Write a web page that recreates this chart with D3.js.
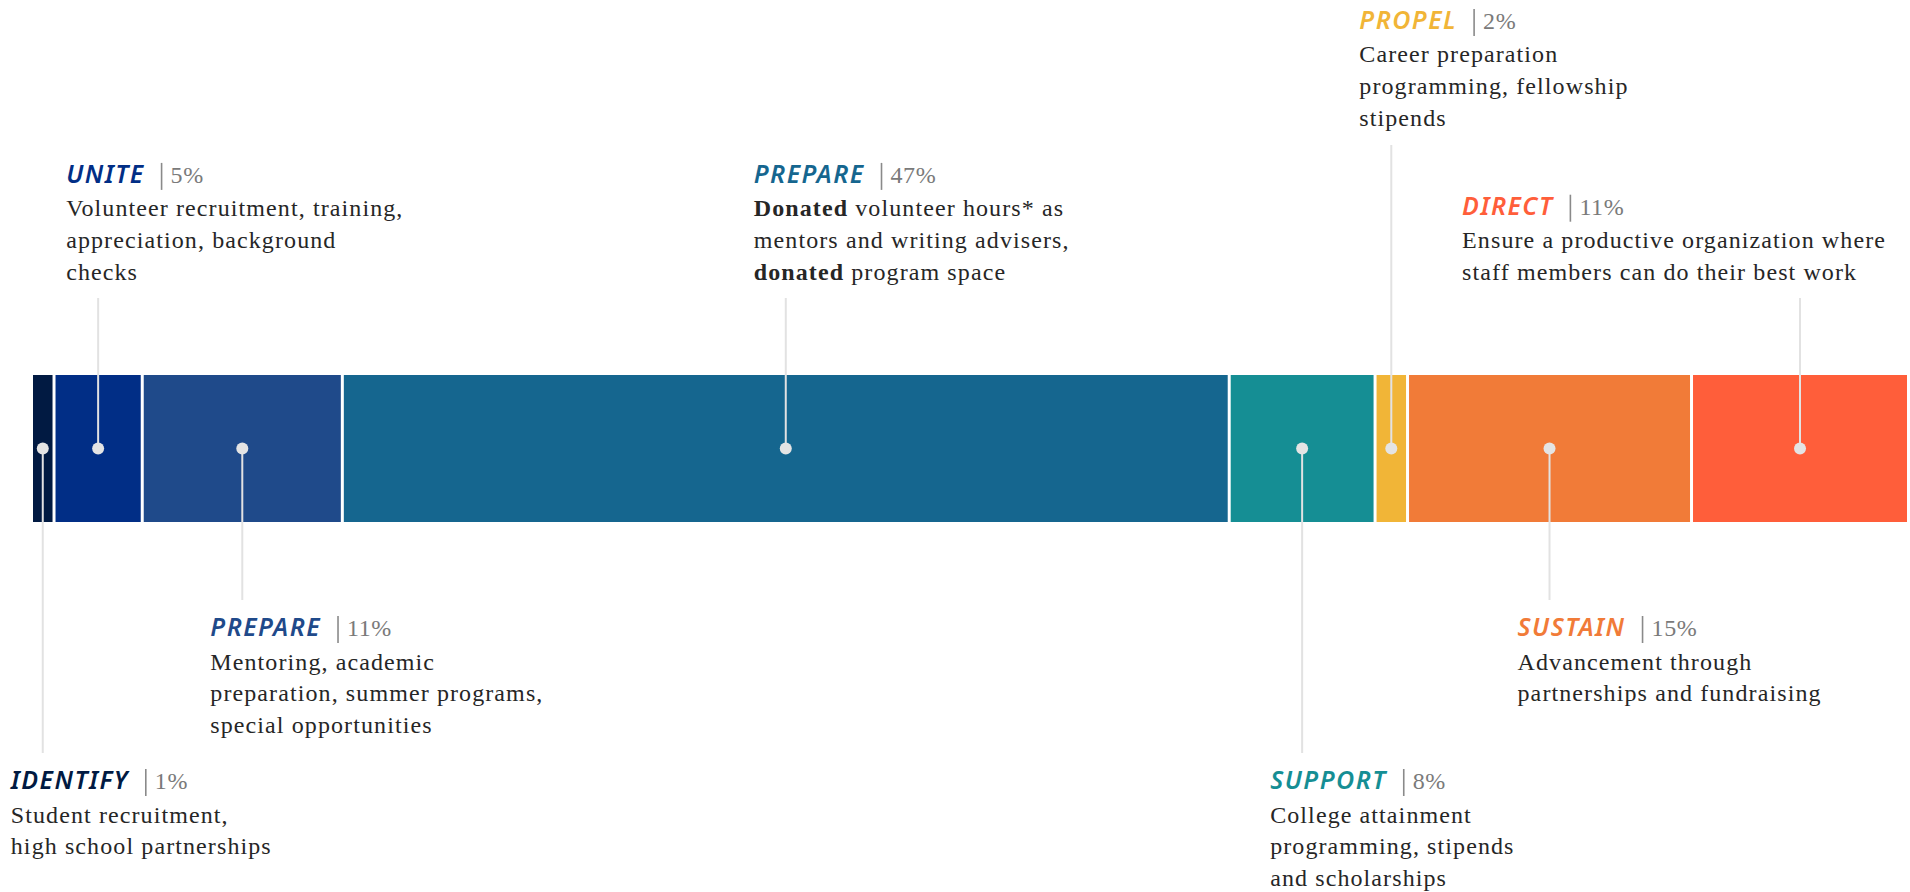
<!DOCTYPE html>
<html>
<head>
<meta charset="utf-8">
<script src="https://cdn.jsdelivr.net/npm/d3@7"></script>
<style>
  html, body { margin: 0; padding: 0; background: #ffffff; }
  svg { display: block; }
</style>
</head>
<body>
<svg id="chart" width="1910" height="892"></svg>
<script>
// ---------------- data ----------------
const categories = ["identify", "unite", "prepare11", "prepare47", "support", "propel", "sustain", "direct"];
const titles = ["IDENTIFY", "UNITE", "PREPARE", "PREPARE", "SUPPORT", "PROPEL", "SUSTAIN", "DIRECT"];
const shares = [1.2, 4.7, 10.66, 47.25, 7.77, 1.73, 15.13, 11.56];
const percentLabels = ["1%", "5%", "11%", "47%", "8%", "2%", "15%", "11%"];
const descriptions = [
  ["Student recruitment,", "high school partnerships"],
  ["Volunteer recruitment, training,", "appreciation, background", "checks"],
  ["Mentoring, academic", "preparation, summer programs,", "special opportunities"],
  ["**Donated** volunteer hours* as", "mentors and writing advisers,", "**donated** program space"],
  ["College attainment", "programming, stipends", "and scholarships"],
  ["Career preparation", "programming, fellowship", "stipends"],
  ["Advancement through", "partnerships and fundraising"],
  ["Ensure a productive organization where", "staff members can do their best work"]
];

// ---------------- style / layout ----------------
const palette = ["#011a42", "#012e86", "#1f4a8a", "#15668f", "#158e94", "#f1b537", "#f17b38", "#ff5e3a"];
const placement = ["bottom2", "top", "bottom1", "top", "bottom2", "top2", "bottom1", "top"];
const tiers = {
  top:     { lastBaseline: 280, lineEnd: 298 },
  top2:    { lastBaseline: 126, lineEnd: 145 },
  bottom1: { titleBaseline: 636, lineEnd: 600 },
  bottom2: { titleBaseline: 789, lineEnd: 753 }
};
const W = 1910, H = 892;
const barTop = 375, barH = 147, gap = 3;
const lineH = 31.8, titleGap = 33.5;
const labelOffset = 32, rightLimit = 1886;
const bodyFont = "'Liberation Serif', serif";
const titleFont = "'Noto Sans', sans-serif";

const svg = d3.select("#chart");
const total = d3.sum(shares);
const x = d3.scaleLinear().domain([0, total]).range([33, W]);
const color = d3.scaleOrdinal().domain(categories).range(palette);

const cum = d3.cumsum(shares);
const segs = categories.map((c, i) => ({
  key: c, i,
  start: i === 0 ? 0 : cum[i - 1],
  end: cum[i]
}));

// bar segments
svg.append("g").selectAll("rect").data(segs).join("rect")
  .attr("x", d => x(d.start))
  .attr("y", barTop)
  .attr("width", d => x(d.end) - x(d.start) - gap)
  .attr("height", barH)
  .attr("fill", d => color(d.key));

const cx = d => (x(d.start) + x(d.end) - gap) / 2;
const cy = barTop + barH / 2;

// leader lines
svg.append("g").selectAll("line").data(segs).join("line")
  .attr("x1", cx).attr("x2", cx)
  .attr("y1", cy)
  .attr("y2", d => tiers[placement[d.i]].lineEnd)
  .attr("stroke", "#e2e2e2")
  .attr("stroke-width", 2);

// dots
svg.append("g").selectAll("circle").data(segs).join("circle")
  .attr("cx", cx).attr("cy", cy).attr("r", 6)
  .attr("fill", "#e4e4e4");

// annotations
const ann = svg.append("g");
segs.forEach(d => {
  const p = placement[d.i];
  const tier = tiers[p];
  const lines = descriptions[d.i];
  let titleY;
  if (p.startsWith("top")) titleY = tier.lastBaseline - (lines.length - 1) * lineH - titleGap;
  else titleY = tier.titleBaseline;

  const g = ann.append("g");
  const title = g.append("text")
    .attr("x", 0).attr("y", titleY)
    .attr("fill", color(d.key))
    .style("font-family", titleFont)
    .style("font-size", "25px")
    .style("font-weight", 600)
    .style("font-style", "italic")
    .style("letter-spacing", "1.5px")
    .text(titles[d.i]);
  const tw = title.node().getComputedTextLength();
  g.append("line")
    .attr("x1", tw + 17).attr("x2", tw + 17)
    .attr("y1", titleY - 20).attr("y2", titleY + 7)
    .attr("stroke", "#8a8a8a").attr("stroke-width", 1.6);
  g.append("text")
    .attr("x", tw + 26).attr("y", titleY)
    .attr("fill", "#7a7a7a")
    .style("font-family", bodyFont)
    .style("font-size", "24px")
    .style("letter-spacing", "0.6px")
    .text(percentLabels[d.i]);

  const body = g.append("text")
    .attr("fill", "#262626")
    .style("font-family", bodyFont)
    .style("font-size", "24px")
    .style("letter-spacing", "1.1px");
  lines.forEach((ln, k) => {
    const t = body.append("tspan").attr("x", 0).attr("y", titleY + titleGap + k * lineH);
    ln.split(/(\*\*[^*]+\*\*)/).filter(s => s.length).forEach((part, j) => {
      const bold = part.startsWith("**");
      const sp = j === 0 ? t : body.append("tspan");
      sp.text(bold ? part.slice(2, -2) : part)
        .style("font-weight", bold ? 700 : 400);
    });
  });
  const bw = body.node().getBBox().width;
  const lx = Math.min(cx(d) - labelOffset, rightLimit - bw);
  g.attr("transform", `translate(${lx},0)`);
});
</script>
</body>
</html>
